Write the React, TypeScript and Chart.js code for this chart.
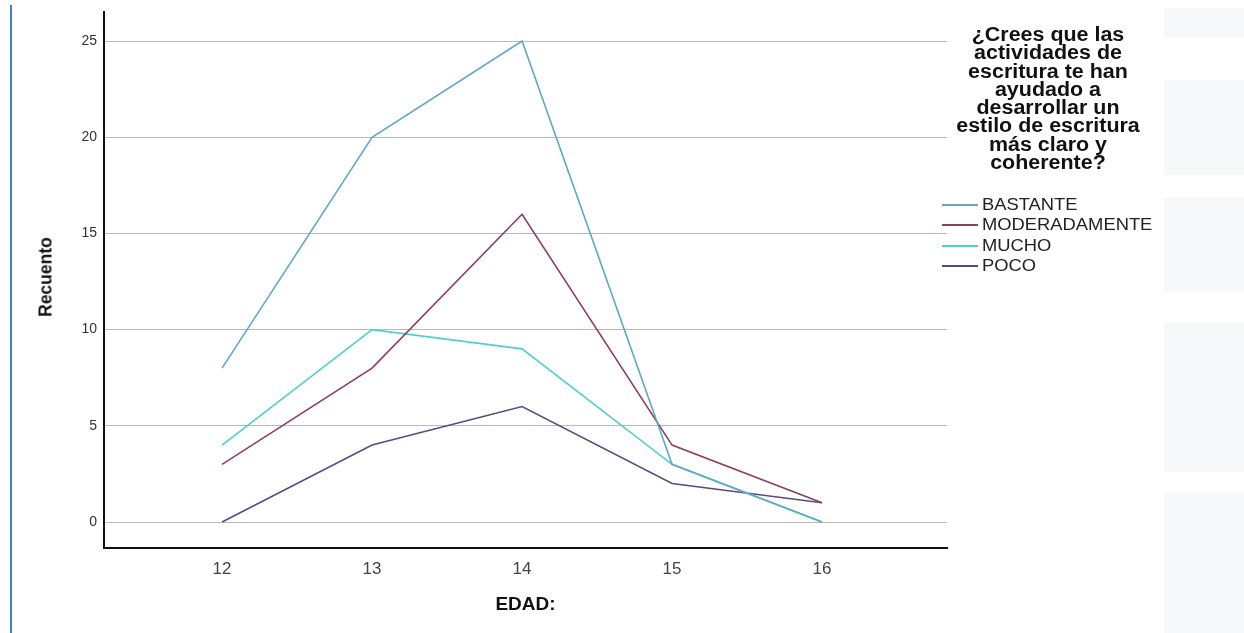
import React, { useEffect, useRef } from "react";
import { Chart, registerables } from "chart.js";

Chart.register(...registerables);

const categories = [12, 13, 14, 15, 16];
const seriesNames = ["BASTANTE", "MODERADAMENTE", "MUCHO", "POCO"];
const bastante = [8, 20, 25, 3, 0];
const moderadamente = [3, 8, 16, 4, 1];
const mucho = [4, 10, 9, 3, 0];
const poco = [0, 4, 6, 2, 1];
const seriesColors = ["#5ea9c4", "#8e3e62", "#4fcfd0", "#5b4a80"];
const yTicks = [0, 5, 10, 15, 20, 25];
const legendTitleLines = [
  "¿Crees que las",
  "actividades de",
  "escritura te han",
  "ayudado a",
  "desarrollar un",
  "estilo de escritura",
  "más claro y",
  "coherente?",
];

const FONT = "'Liberation Sans', Arial, sans-serif";

export default function App() {
  const ref = useRef<HTMLCanvasElement | null>(null);

  useEffect(() => {
    if (!ref.current) return;
    const values = [bastante, moderadamente, mucho, poco];
    const chart = new Chart(ref.current, {
      type: "line",
      data: {
        datasets: values.map((v, i) => ({
          label: seriesNames[i],
          data: categories.map((c, j) => ({ x: c, y: v[j] })),
          borderColor: seriesColors[i],
          backgroundColor: seriesColors[i],
          borderWidth: 1.6,
          pointRadius: 0,
          tension: 0,
        })),
      },
      options: {
        animation: false,
        responsive: false,
        layout: { padding: { top: 12, right: 15, left: 0, bottom: 0 } },
        plugins: { legend: { display: false }, tooltip: { enabled: false } },
        scales: {
          x: {
            type: "linear",
            min: 11.213,
            max: 16.833,
            afterBuildTicks: (s: any) => {
              s.ticks = categories.map((c) => ({ value: c }));
            },
            afterFit: (s: any) => {
              s.height = 85;
              s.paddingLeft = 0;
              s.paddingRight = 0;
            },
            grid: { display: false, drawTicks: false },
            border: { display: true, color: "#111", width: 2 },
            ticks: {
              padding: 11,
              color: "#444",
              font: { family: FONT, size: 17 },
              callback: (v: any) => String(v),
            },
            title: {
              display: true,
              text: "EDAD:",
              color: "#111",
              font: { family: FONT, size: 19, weight: "bold" },
              padding: { top: 0, bottom: 17 },
            },
          },
          y: {
            type: "linear",
            min: -1.35,
            max: 26.51,
            afterBuildTicks: (s: any) => {
              s.ticks = yTicks.map((t) => ({ value: t }));
            },
            afterFit: (s: any) => {
              s.width = 104;
              s.paddingTop = 0;
              s.paddingBottom = 0;
            },
            grid: { color: "#b8b8b8", lineWidth: 1, drawTicks: false },
            border: { display: true, color: "#111", width: 2 },
            ticks: {
              padding: 7,
              color: "#333",
              font: { family: FONT, size: 14 },
            },
          },
        },
      },
    });
    return () => chart.destroy();
  }, []);

  const grayShapes = [
    { top: 8, height: 30 },
    { top: 80, height: 95 },
    { top: 198, height: 95 },
    { top: 322, height: 150 },
    { top: 493, height: 140 },
  ];
  const rowCenters = [205, 225, 246, 266];

  return (
    <div
      style={{
        position: "fixed",
        left: 0,
        top: 0,
        width: 1244,
        height: 633,
        background: "#fff",
        overflow: "hidden",
        fontFamily: FONT,
      }}
    >
      {grayShapes.map((g, i) => (
        <div
          key={i}
          style={{
            position: "absolute",
            left: 1164,
            top: g.top,
            width: 80,
            height: g.height,
            background: "#f7f8fa",
          }}
        />
      ))}
      <div
        style={{
          position: "absolute",
          left: 10,
          top: 5,
          width: 2,
          height: 628,
          background: "#3c7fd6",
        }}
      />
      <canvas
        ref={ref}
        width={962}
        height={633}
        style={{ position: "absolute", left: 0, top: 0 }}
      />
      <div
        style={{
          position: "absolute",
          left: 46,
          top: 277,
          transform: "translate(-50%, -50%) rotate(-90deg)",
          fontSize: 17.5,
          fontWeight: "bold",
          color: "#111",
          whiteSpace: "nowrap",
        }}
      >
        Recuento
      </div>
      <div
        style={{
          position: "absolute",
          left: 1048 - 120,
          top: 25,
          width: 240,
          textAlign: "center",
          fontSize: 19.5,
          lineHeight: "18.3px",
          fontWeight: "bold",
          color: "#111",
          transform: "scaleX(1.1)",
          transformOrigin: "center",
        }}
      >
        {legendTitleLines.map((l, i) => (
          <div key={i}>{l}</div>
        ))}
      </div>
      {seriesNames.map((n, i) => (
        <div
          key={n}
          style={{
            position: "absolute",
            left: 942,
            top: rowCenters[i] - 10,
            height: 20,
            display: "flex",
            alignItems: "center",
          }}
        >
          <div style={{ width: 36, height: 2, background: seriesColors[i] }} />
          <div
            style={{
              marginLeft: 4,
              fontSize: 17,
              color: "#222",
              transform: "scaleX(1.08)",
              transformOrigin: "left center",
              whiteSpace: "nowrap",
            }}
          >
            {n}
          </div>
        </div>
      ))}
    </div>
  );
}
